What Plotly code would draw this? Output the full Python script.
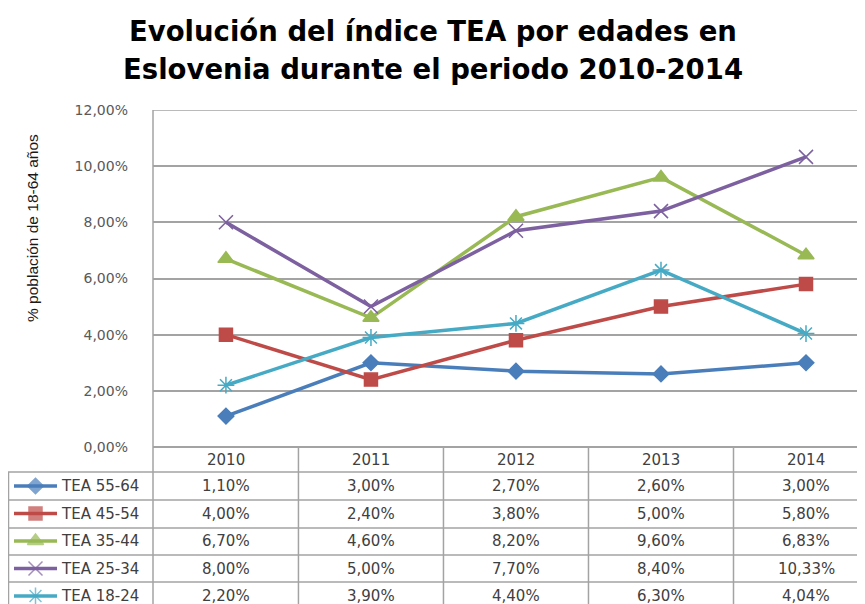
import plotly.graph_objects as go

years = ["2010", "2011", "2012", "2013", "2014"]
series_names = ["TEA 55-64", "TEA 45-54", "TEA 35-44", "TEA 25-34", "TEA 18-24"]
tea_55_64 = [1.10, 3.00, 2.70, 2.60, 3.00]
tea_45_54 = [4.00, 2.40, 3.80, 5.00, 5.80]
tea_35_44 = [6.70, 4.60, 8.20, 9.60, 6.83]
tea_25_34 = [8.00, 5.00, 7.70, 8.40, 10.33]
tea_18_24 = [2.20, 3.90, 4.40, 6.30, 4.04]
series_values = [tea_55_64, tea_45_54, tea_35_44, tea_25_34, tea_18_24]
title_lines = ["Evolución del índice TEA por edades en",
               "Eslovenia durante el periodo 2010-2014"]

colors = ["#4A7EBB", "#BE4B48", "#98B954", "#7D60A0", "#46AAC5"]
symbols = ["diamond", "square", "triangle-up", "x-thin-open", "asterisk-open"]
sizes = [12, 13, 14, 14, 14]

W, H = 865, 604
OFF = 8  # page body margin: screen pixel = paper pixel + 8


def px_x(p):
    return (p - OFF) / W


def px_y(p):
    return 1 - (p - OFF) / H


GRID = "#A3A3A3"
TXT = "#404040"
FONT = "DejaVu Sans"

fig = go.Figure()
for name, vals, col, sym, sz in zip(series_names, series_values, colors, symbols, sizes):
    fig.add_trace(go.Scatter(
        x=years, y=vals, name=name, mode="lines+markers", showlegend=False,
        line=dict(color=col, width=3.5),
        marker=dict(symbol=sym, size=sz, color=col, line=dict(color=col, width=1.5)),
    ))

# legend keys inside the data table (one row per series)
key_x = [0, 1, 2]
for r, (name, col, sym, sz) in enumerate(zip(series_names, colors, symbols, sizes)):
    fig.add_trace(go.Scatter(
        x=key_x, y=[r] * 3, mode="lines+markers", showlegend=False, hoverinfo="skip",
        line=dict(color=col, width=3.5),
        marker=dict(symbol=sym, size=[0, sz, 0], color=col, line=dict(color=col, width=1.5)),
        xaxis="x2", yaxis="y2",
    ))

# table grid
row_lines = [472, 500, 528, 555, 582]
shapes = []
for yy in row_lines:
    shapes.append(dict(type="line", xref="paper", yref="paper", x0=px_x(8), x1=1,
                       y0=px_y(yy), y1=px_y(yy), line=dict(color=GRID, width=1.5)))
shapes.append(dict(type="line", xref="paper", yref="paper", x0=px_x(8.5), x1=px_x(8.5),
                   y0=px_y(472), y1=0, line=dict(color=GRID, width=1.5)))
shapes.append(dict(type="line", xref="paper", yref="paper", x0=px_x(153), x1=px_x(153),
                   y0=px_y(110), y1=0, line=dict(color=GRID, width=1.5)))
shapes.append(dict(type="line", xref="x domain", yref="y", x0=0, x1=1, y0=12, y1=12,
                   line=dict(color=GRID, width=1.5)))
for i in range(len(years) - 1):
    shapes.append(dict(type="line", xref="x", yref="paper", x0=i + 0.5, x1=i + 0.5,
                       y0=px_y(447), y1=0, line=dict(color=GRID, width=1.5)))

annotations = []
for i, yr in enumerate(years):
    annotations.append(dict(x=i, y=px_y(460), xref="x", yref="paper", text=yr,
                            xanchor="center", yanchor="middle", showarrow=False,
                            font=dict(family=FONT, size=15, color=TXT)))
for r, (name, vals) in enumerate(zip(series_names, series_values)):
    annotations.append(dict(x=px_x(59), y=r, xref="paper", yref="y2", text=name,
                            xanchor="left", yanchor="middle", showarrow=False,
                            font=dict(family=FONT, size=15, color=TXT)))
    for i, v in enumerate(vals):
        annotations.append(dict(x=i, y=r, xref="x", yref="y2",
                                text=f"{v:.2f}%".replace(".", ","), showarrow=False,
                                xanchor="center", yanchor="middle",
                                font=dict(family=FONT, size=15, color=TXT)))
annotations.append(dict(x=px_x(33), y=px_y(228), xref="paper", yref="paper",
                        xanchor="center", yanchor="middle",
                        text="% población de 18-64 años", textangle=-90, showarrow=False,
                        font=dict(family="Liberation Sans", size=15.5, color="#1A1A1A")))
for line, yc in zip(title_lines, [31, 69]):
    annotations.append(dict(x=px_x(433), y=px_y(yc), xref="paper", yref="paper",
                            xanchor="center", yanchor="middle", showarrow=False, text=line,
                            font=dict(family=FONT, size=27.5, color="#000000", weight="bold")))

fig.update_layout(
    width=W, height=H, autosize=False,
    margin=dict(l=0, r=0, t=0, b=0),
    paper_bgcolor="white", plot_bgcolor="white",
    separators=",.",
    xaxis=dict(domain=[px_x(153), 1], range=[-0.503, 4.462], showticklabels=False,
               showgrid=False, zeroline=False, showline=False, fixedrange=True,
               automargin=False),
    yaxis=dict(domain=[px_y(447), px_y(110)], range=[0, 12], dtick=2, tickformat=".2f",
               ticksuffix="%", showgrid=True, gridcolor=GRID, gridwidth=1.5,
               zeroline=True, zerolinecolor=GRID, zerolinewidth=1.5,
               showline=False, ticks="", ticklabelstandoff=24, automargin=False,
               tickfont=dict(family=FONT, size=14, color="#595959")),
    xaxis2=dict(domain=[px_x(14), px_x(57)], range=[0, 2], visible=False, anchor="y2",
                fixedrange=True),
    yaxis2=dict(domain=[0, px_y(472)], range=[4.582, -0.509], visible=False, anchor="x2",
                fixedrange=True),
    shapes=shapes,
    annotations=annotations,
)

fig.write_html("out.html")
